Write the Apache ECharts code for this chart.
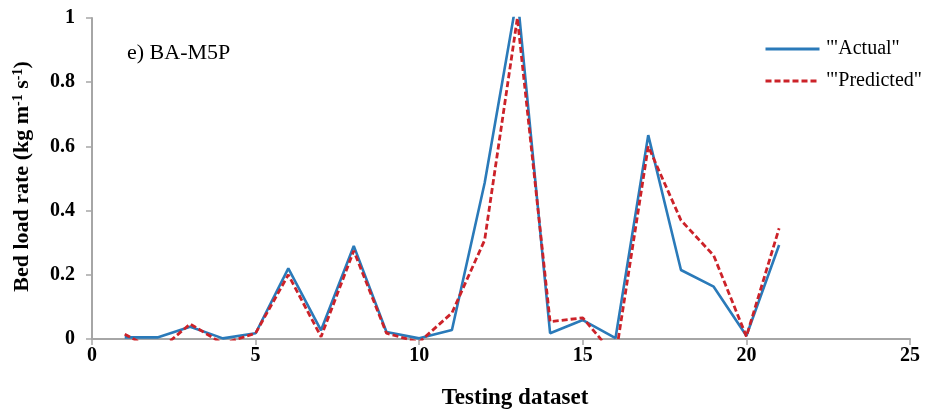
<!DOCTYPE html>
<html>
<head>
<meta charset="utf-8">
<script src="https://cdn.jsdelivr.net/npm/echarts@6/dist/echarts.min.js"></script>
<style>
  html, body { margin: 0; padding: 0; background: #fff; }
  #chart { width: 927px; height: 419px; }
</style>
</head>
<body>
<div id="chart"></div>
<script>
// Testing samples and bed load rates (kg m^-1 s^-1)
const sampleIndex = [1, 2, 3, 4, 5, 6, 7, 8, 9, 10, 11, 12, 13, 14, 15, 16, 17, 18, 19, 20, 21];
const actualRate = [0.005, 0.005, 0.038, 0.002, 0.018, 0.22, 0.027, 0.29, 0.022, 0.002, 0.028,
                    0.486, 1.07, 0.018, 0.059, 0.003, 0.635, 0.215, 0.163, 0.01, 0.293];
const predictedRate = [0.015, -0.04, 0.047, -0.015, 0.018, 0.2, 0.007, 0.275, 0.018, -0.01, 0.081,
                       0.308, 1.0, 0.054, 0.066, -0.055, 0.6, 0.37, 0.26, 0.008, 0.345];
const seriesNames = ['\'"Actual"', '\'"Predicted"'];
const panelLabel = 'e) BA-M5P';

const serif = '"Liberation Serif", "Times New Roman", serif';
const axisGray = '#a6a6a6';
const actualColor = '#2a7ab9';
const predictedColor = '#cc2229';

const chart = echarts.init(document.getElementById('chart'), null, { renderer: 'canvas' });

chart.setOption({
  animation: false,
  backgroundColor: '#fff',
  title: {
    text: panelLabel,
    left: 122,
    top: 37,
    textStyle: { fontFamily: serif, fontSize: 22, fontWeight: 'normal', color: '#000' }
  },
  legend: {
    orient: 'vertical',
    left: 759,
    top: 34,
    itemWidth: 54,
    itemHeight: 16,
    itemGap: 12,
    itemStyle: { opacity: 0 },
    lineStyle: { width: 3 },
    textStyle: { fontFamily: serif, fontSize: 20, color: '#000', padding: [0, 0, 0, 2] },
    data: seriesNames
  },
  grid: { left: 92, right: 17, top: 18, bottom: 80 },
  xAxis: {
    type: 'value',
    min: 0,
    max: 25,
    interval: 5,
    name: 'Testing dataset',
    nameLocation: 'middle',
    nameGap: 48,
    nameTextStyle: { fontFamily: serif, fontSize: 23, fontWeight: 'bold', color: '#000', padding: [0, 0, 0, 28] },
    axisLine: { lineStyle: { color: axisGray, width: 2 } },
    axisTick: { show: true, length: 6, lineStyle: { color: axisGray, width: 1.5 } },
    axisLabel: { margin: 7, fontFamily: serif, fontSize: 20, fontWeight: 'bold', color: '#000' },
    splitLine: { show: false }
  },
  yAxis: {
    type: 'value',
    min: 0,
    max: 1,
    interval: 0.2,
    name: '{t|Bed load rate (kg m}{s|-1}{t| s}{s|-1}{t|)}',
    nameLocation: 'middle',
    nameGap: 58,
    nameRotate: 90,
    nameTextStyle: {
      fontFamily: serif, fontSize: 22, fontWeight: 'bold', color: '#000', padding: [0, 0, 0, 4],
      rich: {
        t: { fontFamily: serif, fontSize: 22, fontWeight: 'bold', color: '#000' },
        s: { fontFamily: serif, fontSize: 14, fontWeight: 'bold', color: '#000', verticalAlign: 'top', padding: [0, 0, 9, 0] }
      }
    },
    axisLine: { show: true, lineStyle: { color: axisGray, width: 2 } },
    axisTick: { show: true, length: 6, lineStyle: { color: axisGray, width: 1.5 } },
    axisLabel: { margin: 17, fontFamily: serif, fontSize: 20, fontWeight: 'bold', color: '#000' },
    splitLine: { show: false }
  },
  series: [
    {
      name: seriesNames[0],
      type: 'line',
      data: sampleIndex.map((x, i) => [x, actualRate[i]]),
      showSymbol: false,
      symbol: 'none',
      clip: true,
      lineStyle: { color: actualColor, width: 2.6 },
      itemStyle: { color: actualColor },
      z: 2
    },
    {
      name: seriesNames[1],
      type: 'line',
      data: sampleIndex.map((x, i) => [x, predictedRate[i]]),
      showSymbol: false,
      symbol: 'none',
      clip: true,
      lineStyle: { color: predictedColor, width: 2.8, type: [6, 3] },
      itemStyle: { color: predictedColor },
      z: 3
    }
  ]
});
</script>
</body>
</html>
